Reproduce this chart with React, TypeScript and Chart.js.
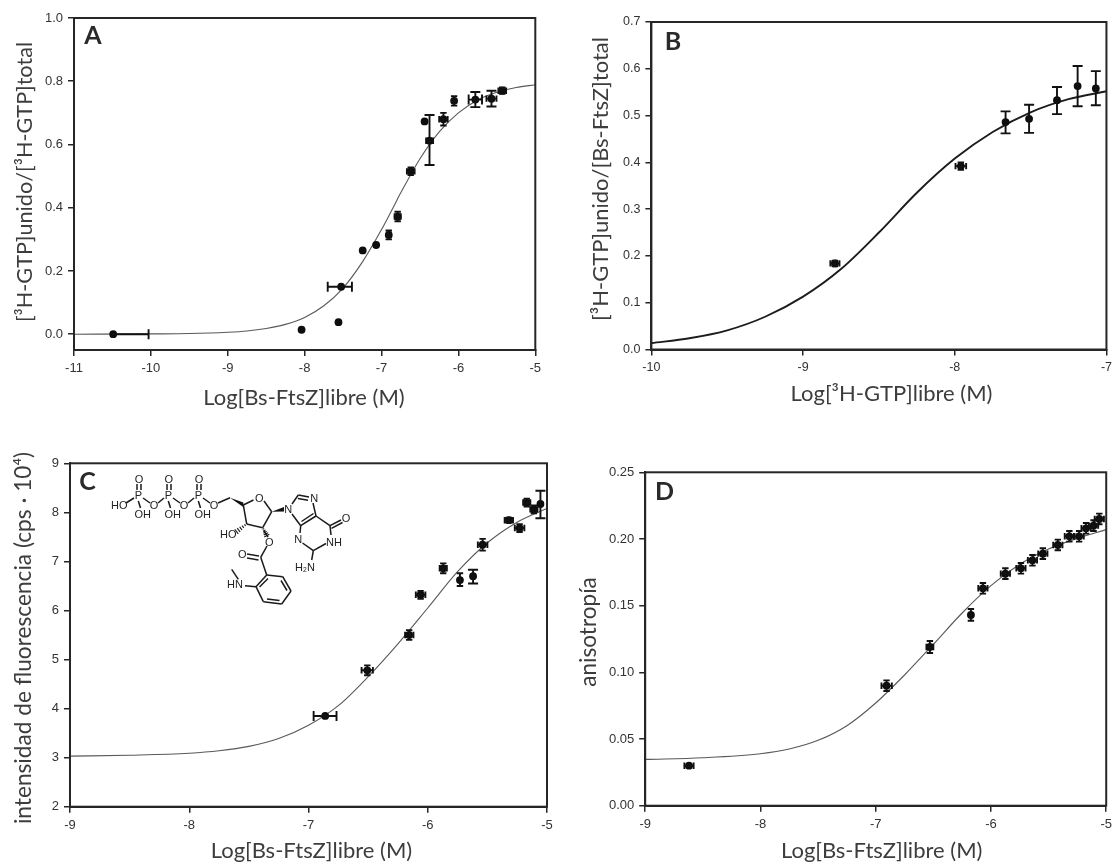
import React, { useEffect, useRef } from "react";
import { Chart, registerables } from "chart.js";

Chart.register(...registerables);

type Err = [number, number] | null;

// Panel A
const aCurveX = [-11, -10, -9.5, -9, -8.75, -8.5, -8.25, -8, -7.75, -7.5, -7.25, -7, -6.85, -6.75, -6.5, -6.25, -6, -5.75, -5.5, -5.25, -5];
const aCurveY = [0, 0.001, 0.002, 0.006, 0.01, 0.018, 0.031, 0.053, 0.09, 0.146, 0.228, 0.331, 0.4, 0.447, 0.555, 0.64, 0.7, 0.741, 0.765, 0.78, 0.789];
const aX = [-10.49, -8.04, -7.56, -7.525, -7.245, -7.07, -6.906, -6.79, -6.62, -6.44, -6.376, -6.195, -6.056, -5.78, -5.57, -5.43];
const aY = [0, 0.014, 0.038, 0.15, 0.265, 0.282, 0.314, 0.372, 0.515, 0.673, 0.612, 0.68, 0.738, 0.742, 0.745, 0.77];
const aXErr: Err[] = [[-10.49, -10.03], null, null, [-7.7, -7.385], null, null, [-6.93, -6.88], [-6.83, -6.75], [-6.67, -6.57], null, [-6.42, -6.33], [-6.25, -6.14], [-6.08, -6.03], [-5.867, -5.693], [-5.635, -5.505], [-5.48, -5.38]];
const aYErr: Err[] = [null, null, null, null, null, null, [0.3, 0.328], [0.357, 0.387], [0.503, 0.527], null, [0.535, 0.693], [0.66, 0.7], [0.723, 0.753], [0.718, 0.766], [0.72, 0.77], [0.76, 0.78]];
const aXTicks = [-11, -10, -9, -8, -7, -6, -5];
const aYTicks = [0, 0.2, 0.4, 0.6, 0.8, 1];

// Panel B
const bCurveX = [-10, -9.75, -9.5, -9.25, -9, -8.75, -8.5, -8.25, -8, -7.75, -7.5, -7.25, -7];
const bCurveY = [0.0135, 0.024, 0.041, 0.07, 0.113, 0.172, 0.25, 0.335, 0.408, 0.465, 0.507, 0.535, 0.552];
const bX = [-8.79, -7.96, -7.665, -7.51, -7.326, -7.19, -7.07];
const bY = [0.184, 0.392, 0.486, 0.493, 0.533, 0.563, 0.558];
const bXErr: Err[] = [[-8.82, -8.76], [-7.995, -7.925], null, null, null, null, null];
const bYErr: Err[] = [[0.178, 0.19], [0.384, 0.4], [0.462, 0.509], [0.463, 0.523], [0.503, 0.561], [0.52, 0.606], [0.522, 0.595]];
const bXTicks = [-10, -9, -8, -7];
const bYTicks = [0, 0.1, 0.2, 0.3, 0.4, 0.5, 0.6, 0.7];

// Panel C
const cCurveX = [-9, -8.5, -8, -7.75, -7.5, -7.25, -7, -6.75, -6.5, -6.25, -6, -5.75, -5.5, -5.25, -5];
const cCurveY = [3.03, 3.05, 3.09, 3.14, 3.23, 3.39, 3.66, 4.06, 4.65, 5.32, 6.05, 6.79, 7.38, 7.8, 8.08];
const cX = [-6.86, -6.507, -6.156, -6.06, -5.87, -5.73, -5.62, -5.54, -5.32, -5.23, -5.17, -5.11, -5.055];
const cY = [3.85, 4.78, 5.5, 6.32, 6.86, 6.62, 6.7, 7.34, 7.84, 7.68, 8.2, 8.06, 8.17];
const cXErr: Err[] = [[-6.957, -6.765], [-6.555, -6.46], [-6.19, -6.12], [-6.1, -6.02], [-5.9, -5.84], null, null, [-5.58, -5.5], [-5.355, -5.285], [-5.27, -5.19], [-5.2, -5.14], [-5.14, -5.08], null];
const cYErr: Err[] = [null, [4.68, 4.88], [5.4, 5.6], [6.24, 6.4], [6.76, 6.96], [6.5, 6.76], [6.55, 6.83], [7.22, 7.46], [7.79, 7.89], [7.6, 7.76], [8.12, 8.28], [7.98, 8.14], [7.88, 8.44]];
const cXTicks = [-9, -8, -7, -6, -5];
const cYTicks = [2, 3, 4, 5, 6, 7, 8, 9];

// Panel D
const dCurveX = [-9, -8.5, -8, -7.75, -7.5, -7.25, -7, -6.75, -6.5, -6.25, -6, -5.75, -5.5, -5.25, -5];
const dCurveY = [0.0347, 0.036, 0.039, 0.0425, 0.049, 0.06, 0.077, 0.098, 0.121, 0.1445, 0.165, 0.181, 0.1925, 0.2005, 0.207];
const dX = [-8.62, -6.906, -6.53, -6.174, -6.07, -5.875, -5.74, -5.64, -5.55, -5.42, -5.32, -5.235, -5.175, -5.11, -5.06];
const dY = [0.03, 0.09, 0.119, 0.143, 0.163, 0.174, 0.178, 0.184, 0.189, 0.1955, 0.202, 0.202, 0.208, 0.21, 0.215];
const dXErr: Err[] = [[-8.66, -8.58], [-6.95, -6.86], [-6.56, -6.5], null, [-6.11, -6.03], [-5.915, -5.835], [-5.78, -5.7], [-5.68, -5.6], [-5.59, -5.51], [-5.46, -5.38], [-5.36, -5.28], [-5.275, -5.195], [-5.215, -5.135], [-5.15, -5.07], [-5.1, -5.02]];
const dYErr: Err[] = [null, [0.086, 0.094], [0.1145, 0.1235], [0.1387, 0.1475], [0.159, 0.167], [0.17, 0.178], [0.174, 0.182], [0.18, 0.188], [0.185, 0.193], [0.1915, 0.1995], [0.198, 0.206], [0.198, 0.206], [0.204, 0.212], [0.206, 0.214], [0.211, 0.219]];
const dXTicks = [-9, -8, -7, -6, -5];
const dYTicks = [0, 0.05, 0.1, 0.15, 0.2, 0.25];

const TITLE_FONT = "Lato, 'Open Sans', sans-serif";
const INK = "#262626";
const TITLE_COLOR = "#3d3d3d";

type Panel = {
  letter: string;
  letterAt: [number, number];
  canvas: [number, number, number, number];
  plot: [number, number, number, number];
  xRange: [number, number];
  yRange: [number, number];
  xTicks: number[];
  yTicks: number[];
  yDecimals: number;
  xTitle: string;
  yTitle: string;
  xTitleAt: [number, number];
  yTitleAt: [number, number];
  curveX: number[];
  curveY: number[];
  curveWidth: number;
  curveColor: string;
  px: number[];
  py: number[];
  xErr: Err[];
  yErr: Err[];
  titleSize: number;
  yTitleSize: number;
  tickSize: number;
};

const panels: Panel[] = [
  {
    letter: "A", letterAt: [93, 36], canvas: [0, 0, 558, 420], plot: [74, 18, 535.3, 350],
    xRange: [-11, -5], yRange: [-0.05, 1], xTicks: aXTicks, yTicks: aYTicks, yDecimals: 1,
    xTitle: "Log[Bs-FtsZ]libre (M)", yTitle: "[³H-GTP]unido/[³H-GTP]total",
    xTitleAt: [304, 398], yTitleAt: [25, 182],
    curveX: aCurveX, curveY: aCurveY, curveWidth: 1.1, curveColor: "#5c5855",
    px: aX, py: aY, xErr: aXErr, yErr: aYErr, titleSize: 22, yTitleSize: 21.7, tickSize: 13,
  },
  {
    letter: "B", letterAt: [673, 42], canvas: [575, 0, 542, 420], plot: [651.4, 22, 1106.7, 349.5],
    xRange: [-10, -7], yRange: [0, 0.7], xTicks: bXTicks, yTicks: bYTicks, yDecimals: 1,
    xTitle: "Log[³H-GTP]libre (M)", yTitle: "[³H-GTP]unido/[Bs-FtsZ]total",
    xTitleAt: [891.5, 394], yTitleAt: [601, 179],
    curveX: bCurveX, curveY: bCurveY, curveWidth: 1.9, curveColor: "#1c1c1c",
    px: bX, py: bY, xErr: bXErr, yErr: bYErr, titleSize: 22, yTitleSize: 22, tickSize: 12.5,
  },
  {
    letter: "C", letterAt: [87.5, 482], canvas: [0, 430, 558, 434], plot: [70, 463.3, 547, 806.7],
    xRange: [-9, -5], yRange: [2, 9], xTicks: cXTicks, yTicks: cYTicks, yDecimals: 0,
    xTitle: "Log[Bs-FtsZ]libre (M)", yTitle: "intensidad de fluorescencia (cps · 10⁴)",
    xTitleAt: [311.5, 850.7], yTitleAt: [24, 638],
    curveX: cCurveX, curveY: cCurveY, curveWidth: 1.1, curveColor: "#5c5855",
    px: cX, py: cY, xErr: cXErr, yErr: cYErr, titleSize: 22, yTitleSize: 22.7, tickSize: 13,
  },
  {
    letter: "D", letterAt: [664.6, 492], canvas: [575, 430, 542, 434], plot: [645.2, 472.3, 1108.7, 805.7],
    xRange: [-9, -5], yRange: [0, 0.25], xTicks: dXTicks, yTicks: dYTicks, yDecimals: 2,
    xTitle: "Log[Bs-FtsZ]libre (M)", yTitle: "anisotropía",
    xTitleAt: [881.7, 850.7], yTitleAt: [588.6, 632],
    curveX: dCurveX, curveY: dCurveY, curveWidth: 1.1, curveColor: "#5c5855",
    px: dX, py: dY, xErr: dXErr, yErr: dYErr, titleSize: 22, yTitleSize: 22.6, tickSize: 13,
  },
];

function panelPlugin(p: Panel) {
  const [cl, ct] = p.canvas;
  return {
    id: "panelDecor",
    afterLayout(chart: any) {
      const ctx = chart.ctx;
      const sx = chart.scales.x;
      const sy = chart.scales.y;
      const wrap = (scale: any, dx: number, dy: number) => {
        if (scale.__wrapped) return;
        scale.__wrapped = true;
        const orig = scale.drawTitle.bind(scale);
        scale.drawTitle = () => {
          ctx.save();
          ctx.translate(dx, dy);
          orig();
          ctx.restore();
        };
      };
      const xl = p.titleSize * 1.2;
      wrap(sx, p.xTitleAt[0] - cl - (sx.left + sx.right) / 2, p.xTitleAt[1] - ct - (sx.bottom - xl / 2));
      const yl = p.yTitleSize * 1.2;
      wrap(sy, p.yTitleAt[0] - cl - (sy.left + yl / 2), p.yTitleAt[1] - ct - (sy.top + sy.bottom) / 2);
    },
    afterDatasetsDraw(chart: any) {
      const { ctx, chartArea: a } = chart;
      const sx = chart.scales.x;
      const sy = chart.scales.y;
      const capFor = (span: number) => (Math.abs(span) / 2 < 6.4 ? 3.2 : 5);
      ctx.save();
      ctx.strokeStyle = "#111";
      ctx.lineWidth = 1.9;
      p.px.forEach((vx, i) => {
        const x = sx.getPixelForValue(vx);
        const y = sy.getPixelForValue(p.py[i]);
        const ex = p.xErr[i];
        const ey = p.yErr[i];
        ctx.beginPath();
        if (ex) {
          const x0 = sx.getPixelForValue(ex[0]);
          const x1 = sx.getPixelForValue(ex[1]);
          const cap = capFor(x1 - x0);
          ctx.moveTo(x0, y);
          ctx.lineTo(x1, y);
          if (ex[0] !== vx) {
            ctx.moveTo(x0, y - cap);
            ctx.lineTo(x0, y + cap);
          }
          ctx.moveTo(x1, y - cap);
          ctx.lineTo(x1, y + cap);
        }
        if (ey) {
          const y0 = sy.getPixelForValue(ey[0]);
          const y1 = sy.getPixelForValue(ey[1]);
          const cap = capFor(y1 - y0);
          ctx.moveTo(x, y0);
          ctx.lineTo(x, y1);
          ctx.moveTo(x - cap, y0);
          ctx.lineTo(x + cap, y0);
          ctx.moveTo(x - cap, y1);
          ctx.lineTo(x + cap, y1);
        }
        ctx.stroke();
      });
      ctx.restore();
      ctx.save();
      ctx.strokeStyle = INK;
      ctx.lineWidth = 2;
      ctx.strokeRect(a.left, a.top, a.right - a.left, a.bottom - a.top);
      ctx.fillStyle = "#2a2a2a";
      ctx.font = `bold 25px ${TITLE_FONT}`;
      ctx.textAlign = "center";
      ctx.textBaseline = "middle";
      ctx.fillText(p.letter, p.letterAt[0] - cl, p.letterAt[1] - ct);
      ctx.restore();
    },
  };
}

function makeChart(canvas: HTMLCanvasElement, p: Panel) {
  const [cl, ct, cw, ch] = p.canvas;
  const [pl, pt, pr, pb] = p.plot;
  const tickFont = { family: "'Liberation Sans', Arial, sans-serif", size: p.tickSize };
  const grid = { drawOnChartArea: false, drawTicks: true, tickLength: 6, color: INK, lineWidth: 1.5 };
  const border = { display: true, color: INK, width: 2 };
  return new Chart(canvas, {
    type: "scatter",
    data: {
      datasets: [
        {
          type: "line",
          data: p.curveX.map((x, i) => ({ x, y: p.curveY[i] })),
          borderColor: p.curveColor,
          borderWidth: p.curveWidth,
          pointRadius: 0,
          cubicInterpolationMode: "monotone",
          fill: false,
          order: 2,
        },
        {
          type: "scatter",
          data: p.px.map((x, i) => ({ x, y: p.py[i] })),
          backgroundColor: "#0d0d0d",
          borderColor: "#0d0d0d",
          borderWidth: 0,
          pointRadius: 3.9,
          pointStyle: "circle",
          clip: false,
          order: 1,
        },
      ],
    } as any,
    options: {
      animation: false,
      responsive: false,
      events: [],
      layout: { padding: { left: 0, bottom: 0, top: pt - ct, right: cl + cw - pr } },
      plugins: { legend: { display: false }, tooltip: { enabled: false }, title: { display: false } },
      scales: {
        x: {
          type: "linear",
          min: p.xRange[0],
          max: p.xRange[1],
          grid,
          border,
          afterBuildTicks: (s: any) => { s.ticks = p.xTicks.map((value) => ({ value })); },
          afterFit: (s: any) => { s.height = ct + ch - pb; },
          ticks: { font: tickFont, color: "#333", padding: 5, maxRotation: 0, autoSkip: false, callback: (v: any) => String(v) },
          title: {
            display: true, text: p.xTitle, color: TITLE_COLOR, padding: 0,
            font: { family: TITLE_FONT, size: p.titleSize, lineHeight: 1.2 },
          },
        },
        y: {
          type: "linear",
          min: p.yRange[0],
          max: p.yRange[1],
          grid,
          border,
          afterBuildTicks: (s: any) => { s.ticks = p.yTicks.map((value) => ({ value })); },
          afterFit: (s: any) => { s.width = pl - cl; },
          ticks: { font: tickFont, color: "#333", padding: 5, autoSkip: false, callback: (v: any) => Number(v).toFixed(p.yDecimals) },
          title: {
            display: true, text: p.yTitle, color: TITLE_COLOR, padding: 0,
            font: { family: TITLE_FONT, size: p.yTitleSize, lineHeight: 1.2 },
          },
        },
      },
    } as any,
    plugins: [panelPlugin(p)],
  });
}

// Structure of mant-GTP drawn as a decoration over panel C (page coordinates).
const bonds: number[][] = [
  [126, 503, 134, 498], [138.3, 501, 140.5, 508], [143, 498, 150, 503], [158, 503, 164, 498],
  [168.3, 501, 170.5, 508], [173, 498, 180, 503], [188, 503, 194, 498], [198.3, 501, 200.5, 508],
  [203, 498, 210, 503], [218, 503, 230, 497.7],
  [243.3, 505, 253.5, 500], [264, 501, 271.7, 511.7], [271.7, 511.7, 262.7, 527.7], [262.7, 527.7, 246.7, 524], [246.7, 524, 243.3, 505],
  [264, 531, 268, 537], [267, 546, 260.7, 557.3], [260.7, 557.3, 266.7, 575],
  [266.7, 575, 256, 586.7], [256, 586.7, 263.3, 601.7], [263.3, 601.7, 281.7, 604], [281.7, 604, 291, 591], [291, 591, 282.7, 576.7], [282.7, 576.7, 266.7, 575],
  [268, 578.5, 259.5, 587], [267, 599, 279.5, 600.5], [287, 590.5, 281, 580.5],
  [245, 585.7, 256, 586.7], [231.7, 569.3, 238.3, 579.3],
  [292, 504, 298.3, 495], [298.3, 495, 309, 497], [298, 498.5, 308, 500.3], [313, 503, 316, 516],
  [316, 516, 300.7, 525.7], [313.5, 513.5, 301.5, 521.5], [300.7, 525.7, 292, 514], [316, 516, 330, 525.7],
  [330, 525.7, 341, 520], [331.5, 528.3, 342.5, 522.5], [330, 525.7, 331, 535], [326, 543.5, 313.3, 550.7],
  [313.3, 550.7, 302.5, 543], [300, 533, 300.7, 525.7], [313.3, 550.7, 311.7, 560],
];
const doubles: number[][] = [
  [137, 484, 137, 490], [141, 484, 141, 490], [167, 484, 167, 490], [171, 484, 171, 490], [197, 484, 197, 490], [201, 484, 201, 490],
  [247, 554, 259, 556], [247, 558, 258.5, 560],
];
const wedges: number[][] = [[230, 497.7, 243.3, 502.5, 243.3, 507], [271.7, 511.7, 284, 507, 284, 511.5]];
const hashes: number[][] = [[246.7, 524, 236, 532], [262.7, 527.7, 267, 536]];
const atoms: [string, number, number][] = [
  ["HO", 119.3, 505], ["P", 138.3, 495], ["O", 139, 479.3], ["OH", 142.7, 514], ["O", 154, 505],
  ["P", 168.3, 495], ["O", 168.7, 479.3], ["OH", 172.7, 514], ["O", 184, 505],
  ["P", 198.3, 495], ["O", 199, 479.3], ["OH", 202.7, 514], ["O", 214, 505],
  ["O", 259.3, 498.3], ["N", 288.3, 509.3], ["N", 314.3, 498.3], ["O", 346, 517.7], ["NH", 334, 541.7],
  ["N", 298.3, 539.3], ["H₂N", 305, 566.7], ["HO", 228.3, 534], ["O", 269.3, 541.7], ["O", 242.3, 554.3], ["HN", 235, 584],
];

function Structure() {
  const hashLines: React.ReactNode[] = [];
  hashes.forEach(([x0, y0, x1, y1], k) => {
    const dx = x1 - x0;
    const dy = y1 - y0;
    const len = Math.hypot(dx, dy);
    const nx = -dy / len;
    const ny = dx / len;
    [0.15, 0.35, 0.55, 0.75, 0.95].forEach((t, j) => {
      const w = 0.6 + 2.4 * t;
      hashLines.push(
        <line key={`h${k}-${j}`} x1={x0 + dx * t - nx * w} y1={y0 + dy * t - ny * w} x2={x0 + dx * t + nx * w} y2={y0 + dy * t + ny * w} stroke="#1a1a1a" strokeWidth={1.1} />
      );
    });
  });
  return (
    <svg width={1117} height={864} style={{ position: "absolute", left: 0, top: 0, pointerEvents: "none" }}>
      {[...bonds, ...doubles].map(([x1, y1, x2, y2], i) => (
        <line key={i} x1={x1} y1={y1} x2={x2} y2={y2} stroke="#1a1a1a" strokeWidth={1.5} />
      ))}
      {wedges.map(([a, b, c, d, e, f], i) => (
        <polygon key={i} points={`${a},${b} ${c},${d} ${e},${f}`} fill="#111" />
      ))}
      {hashLines}
      {atoms.map(([t, x, y], i) => (
        <text key={i} x={x} y={y} textAnchor="middle" dominantBaseline="central" fontFamily="'Liberation Sans', Arial, sans-serif" fontSize={11} fill="#222">
          {t}
        </text>
      ))}
    </svg>
  );
}

export default function App() {
  const refs = useRef<(HTMLCanvasElement | null)[]>([]);
  useEffect(() => {
    const charts = panels.map((p, i) => makeChart(refs.current[i] as HTMLCanvasElement, p));
    return () => charts.forEach((c) => c.destroy());
  }, []);
  return (
    <div style={{ position: "absolute", left: 0, top: 0, width: 1117, height: 864, overflow: "hidden", background: "#fff" }}>
      {panels.map((p, i) => (
        <canvas
          key={p.letter}
          ref={(el) => { refs.current[i] = el; }}
          width={p.canvas[2]}
          height={p.canvas[3]}
          style={{ position: "absolute", left: p.canvas[0], top: p.canvas[1], width: p.canvas[2], height: p.canvas[3], display: "block" }}
        />
      ))}
      <Structure />
    </div>
  );
}
